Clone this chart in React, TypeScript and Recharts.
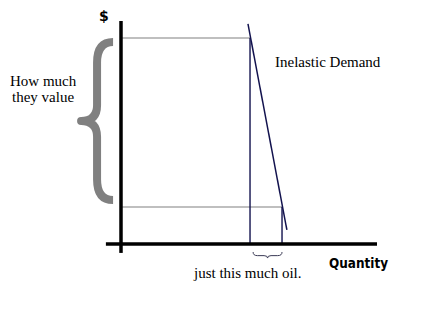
import { LineChart, Line, XAxis, YAxis, ReferenceLine, ReferenceArea } from 'recharts'

// demand curve endpoints (quantity, price) on a 0-100 scale
const demandQ = [49.6, 64.8]
const demandP = [98.7, 6.3]

// the two price levels and the quantities bought at them
const priceLevels = [92.4, 16.6]
const quantityLevels = [50.4, 62.9]

// braces: "how much they value" (price range) and "just this much oil" (quantity range)
const valueBraceQ = [-15.6, -3.1]
const valueBraceP = [19.7, 90.6]
const oilBraceQ = [51.6, 62.9]
const oilBraceP = [-6.3, -3.6]

// axis extents, including the little overhang past the origin
const qAxis = [-5.9, 100]
const pAxis = [-4, 100]

const demandData = demandQ.map((q, i) => ({ q, p: demandP[i] }))

const NAVY = '#12124e'

function VerticalBrace(props: any) {
  const { x, y, width: w, height: h } = props
  const mid = x + w * 0.5
  const cy = y + h / 2
  const d = `M ${x + w} ${y} Q ${mid} ${y} ${mid} ${y + h * 0.13}
    L ${mid} ${cy - h * 0.1} Q ${mid} ${cy} ${x} ${cy}
    Q ${mid} ${cy} ${mid} ${cy + h * 0.1}
    L ${mid} ${y + h - h * 0.13} Q ${mid} ${y + h} ${x + w} ${y + h}`
  return <path d={d} fill="none" stroke="#808080" strokeWidth={8} strokeLinejoin="round" />
}

function HorizontalBrace(props: any) {
  const { x, y, width: w, height: h } = props
  const cx = x + w / 2
  const m = y + h * 0.6
  const d = `M ${x} ${y} Q ${x} ${m} ${x + w * 0.15} ${m}
    L ${cx - w * 0.12} ${m} Q ${cx} ${m} ${cx} ${y + h}
    Q ${cx} ${m} ${cx + w * 0.12} ${m}
    L ${x + w - w * 0.15} ${m} Q ${x + w} ${m} ${x + w} ${y}`
  return <path d={d} fill="none" stroke="#3a3a55" strokeWidth={1} />
}

export default function App() {
  const serif = '"Liberation Serif", serif'
  return (
    <div style={{ position: 'absolute', left: 0, top: 0, width: 432, height: 309, background: '#fff' }}>
      <LineChart
        width={432}
        height={309}
        data={demandData}
        margin={{ top: 21, right: 55, bottom: 65, left: 121 }}
      >
        <XAxis type="number" dataKey="q" domain={[0, 100]} allowDataOverflow hide />
        <YAxis type="number" dataKey="p" domain={[0, 100]} allowDataOverflow hide />

        {priceLevels.map((p, i) => (
          <ReferenceLine
            key={'p' + i}
            segment={[{ x: 0, y: p }, { x: quantityLevels[i], y: p }]}
            stroke="#aaaaaa"
            strokeWidth={1.5}
            ifOverflow="visible"
          />
        ))}
        {quantityLevels.map((q, i) => (
          <ReferenceLine
            key={'q' + i}
            segment={[{ x: q, y: 0 }, { x: q, y: priceLevels[i] }]}
            stroke={NAVY}
            strokeWidth={1.4}
            ifOverflow="visible"
          />
        ))}

        {/* the axes */}
        <ReferenceLine segment={[{ x: qAxis[0], y: 0 }, { x: qAxis[1], y: 0 }]} stroke="#000" strokeWidth={3.5} ifOverflow="visible" />
        <ReferenceLine segment={[{ x: 0, y: pAxis[0] }, { x: 0, y: pAxis[1] }]} stroke="#000" strokeWidth={3.5} ifOverflow="visible" />

        <ReferenceArea
          x1={valueBraceQ[0]}
          x2={valueBraceQ[1]}
          y1={valueBraceP[0]}
          y2={valueBraceP[1]}
          ifOverflow="visible"
          shape={<VerticalBrace />}
        />
        <ReferenceArea
          x1={oilBraceQ[0]}
          x2={oilBraceQ[1]}
          y1={oilBraceP[0]}
          y2={oilBraceP[1]}
          ifOverflow="visible"
          shape={<HorizontalBrace />}
        />

        <Line
          dataKey="p"
          stroke={NAVY}
          strokeWidth={1.5}
          dot={false}
          activeDot={false}
          isAnimationActive={false}
        />
      </LineChart>

      <svg width={432} height={309} style={{ position: 'absolute', left: 0, top: 0, pointerEvents: 'none' }}>
        <text x={99} y={21} fontFamily='"DejaVu Sans", sans-serif' fontWeight="bold" fontSize={14} fill="#000">$</text>
        <text x={10} y={86} fontFamily={serif} fontSize={15} fill="#000">How much</text>
        <text x={12} y={102} fontFamily={serif} fontSize={15} fill="#000">they value</text>
        <text x={275} y={67} fontFamily={serif} fontSize={15} fill="#000">Inelastic Demand</text>
        <text x={194} y={278} fontFamily={serif} fontSize={15} fill="#000">just this much oil.</text>
        <text x={329} y={268} fontFamily='"DejaVu Sans", sans-serif' fontWeight="bold" fontSize={14} textLength={59} lengthAdjust="spacingAndGlyphs" fill="#000">Quantity</text>
      </svg>
    </div>
  )
}
